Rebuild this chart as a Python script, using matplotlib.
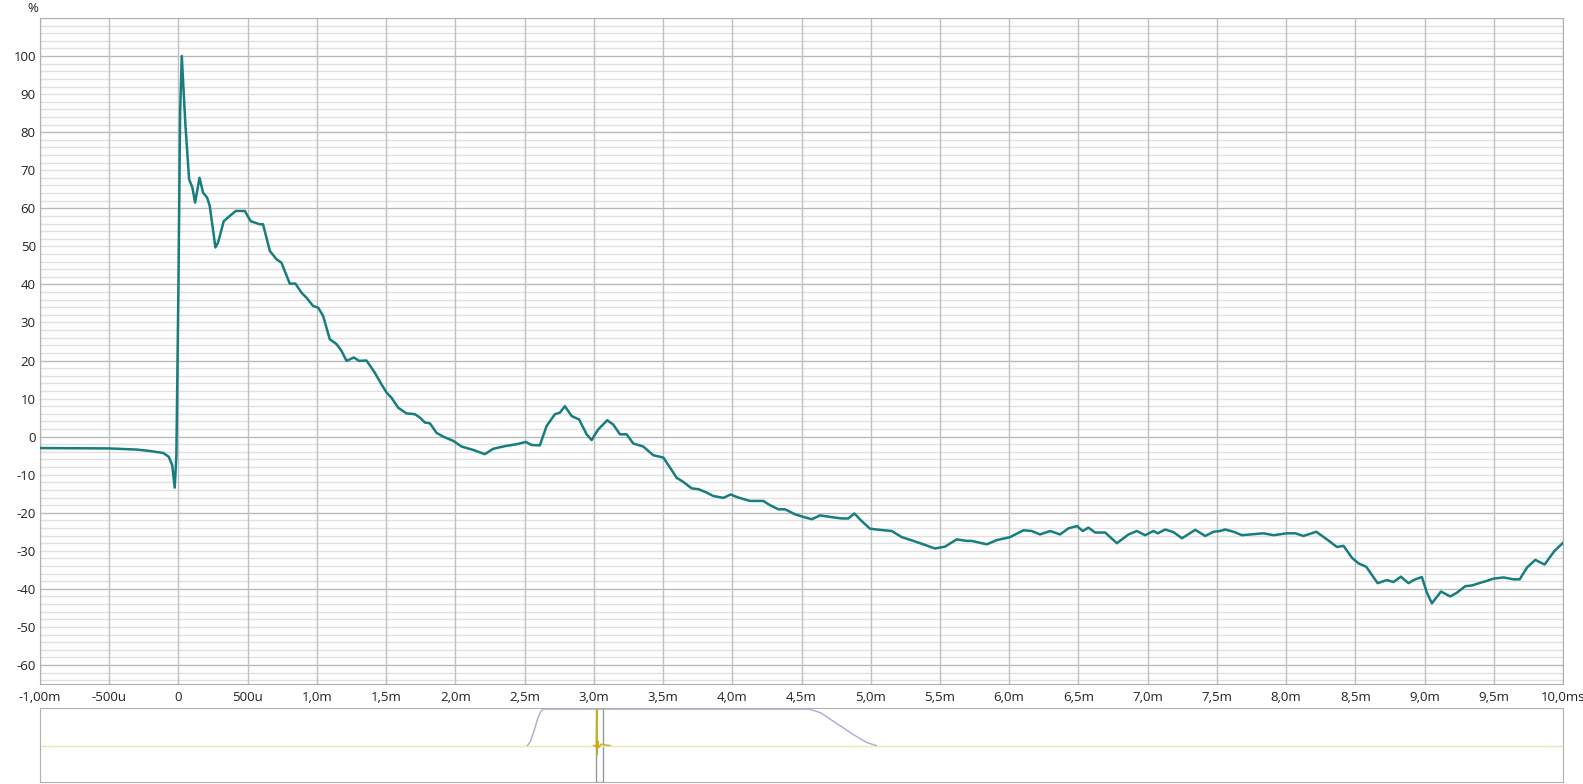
import matplotlib.pyplot as plt
import numpy as np

plt.rcParams['font.family'] = ['Open Sans', 'DejaVu Sans']

# impulse response (time in ms, level in %)
t_ms = [-1.0, -0.5, -0.3, -0.2, -0.11, -0.07, -0.045, -0.027, -0.015, 0.0, 0.012, 0.024,
        0.05, 0.077, 0.101, 0.12, 0.152, 0.178, 0.207, 0.226, 0.267, 0.286, 0.327, 0.371,
        0.414, 0.479, 0.522, 0.587, 0.611, 0.66, 0.708, 0.744, 0.804, 0.845, 0.889, 0.925,
        0.973, 1.009, 1.045, 1.093, 1.142, 1.178, 1.214, 1.267, 1.305, 1.358, 1.418, 1.467,
        1.503, 1.539, 1.587, 1.647, 1.707, 1.744, 1.780, 1.816, 1.864, 1.912, 1.984, 2.045,
        2.129, 2.213, 2.273, 2.358, 2.442, 2.509, 2.55, 2.61, 2.659, 2.719, 2.755, 2.791,
        2.84, 2.894, 2.948, 2.984, 3.032, 3.097, 3.14, 3.189, 3.237, 3.285, 3.357, 3.43,
        3.502, 3.55, 3.598, 3.646, 3.707, 3.755, 3.815, 3.863, 3.935, 3.988, 4.043, 4.128,
        4.224, 4.272, 4.333, 4.381, 4.453, 4.513, 4.574, 4.634, 4.706, 4.79, 4.838, 4.882,
        4.935, 4.995, 5.067, 5.152, 5.224, 5.308, 5.38, 5.465, 5.537, 5.621, 5.693, 5.73,
        5.838, 5.91, 6.007, 6.103, 6.163, 6.223, 6.296, 6.368, 6.428, 6.489, 6.532, 6.572,
        6.621, 6.693, 6.778, 6.862, 6.922, 6.982, 7.042, 7.074, 7.127, 7.187, 7.248, 7.344,
        7.416, 7.476, 7.524, 7.56, 7.621, 7.681, 7.741, 7.837, 7.909, 8.006, 8.066, 8.126,
        8.218, 8.295, 8.367, 8.415, 8.475, 8.523, 8.579, 8.661, 8.728, 8.776, 8.829, 8.884,
        8.933, 8.981, 9.017, 9.053, 9.119, 9.186, 9.234, 9.294, 9.343, 9.403, 9.451, 9.499,
        9.571, 9.643, 9.687, 9.74, 9.80, 9.867, 9.937, 10.0]
level = [-3.0, -3.1, -3.4, -3.8, -4.3, -5.3, -7.5, -13.4, -5.0, 40.0, 85.0, 100.0,
         82.0, 67.6, 65.4, 61.5, 68.0, 64.1, 62.8, 60.6, 49.7, 51.0, 56.6, 58.0,
         59.3, 59.3, 56.6, 55.8, 55.8, 48.8, 46.6, 45.7, 40.2, 40.2, 37.8, 36.5,
         34.3, 33.9, 31.7, 25.6, 24.3, 22.5, 19.9, 20.8, 19.9, 20.0, 16.8, 13.7,
         11.6, 10.2, 7.6, 6.1, 5.9, 5.0, 3.7, 3.5, 1.0, 0.0, -1.1, -2.6,
         -3.5, -4.6, -3.2, -2.5, -2.0, -1.4, -2.2, -2.3, 2.8, 5.9, 6.3, 8.0,
         5.4, 4.5, 0.6, -0.9, 1.9, 4.3, 3.2, 0.6, 0.6, -1.8, -2.6, -4.9,
         -5.5, -8.1, -10.8, -11.9, -13.6, -13.8, -14.7, -15.6, -16.1, -15.2, -16.0, -16.9,
         -16.9, -18.0, -19.1, -19.1, -20.4, -21.1, -21.7, -20.7, -21.1, -21.5, -21.5, -20.2,
         -22.2, -24.2, -24.5, -24.8, -26.4, -27.4, -28.3, -29.4, -28.9, -27.0, -27.4, -27.4,
         -28.3, -27.2, -26.4, -24.6, -24.8, -25.7, -24.8, -25.7, -24.1, -23.5, -24.8, -23.9,
         -25.2, -25.2, -28.0, -25.7, -24.8, -25.9, -24.8, -25.4, -24.4, -25.1, -26.7, -24.5,
         -26.1, -25.0, -24.8, -24.4, -25.0, -25.9, -25.7, -25.4, -25.9, -25.4, -25.4, -26.1,
         -25.0, -27.0, -29.0, -28.7, -31.8, -33.3, -34.2, -38.5, -37.7, -38.2, -36.8, -38.5,
         -37.5, -36.9, -41.0, -43.8, -40.7, -42.0, -41.0, -39.3, -39.1, -38.4, -37.9, -37.3,
         -37.0, -37.5, -37.5, -34.4, -32.4, -33.6, -30.1, -27.9]

x_ticks = [-1.0, -0.5, 0.0, 0.5, 1.0, 1.5, 2.0, 2.5, 3.0, 3.5, 4.0, 4.5, 5.0, 5.5, 6.0,
           6.5, 7.0, 7.5, 8.0, 8.5, 9.0, 9.5, 10.0]
x_labels = ['-1,00m', '-500u', '0', '500u', '1,0m', '1,5m', '2,0m', '2,5m', '3,0m', '3,5m',
            '4,0m', '4,5m', '5,0m', '5,5m', '6,0m', '6,5m', '7,0m', '7,5m', '8,0m', '8,5m',
            '9,0m', '9,5m', '10,0ms']
y_ticks = list(range(-60, 101, 10))

# overview strip: analysis window (ms, gain) and the impulse near t=0
win_t = [-127, -122, -115, -108, -102, -98, 389, 410, 440, 470, 495, 512]
win_g = [0, 0.1, 0.4, 0.75, 0.95, 1.0, 1.0, 0.9, 0.6, 0.3, 0.08, 0]
ir_t = [-6, -2, -1, 0, 1, 2, 4, 8, 14, 24]
ir_v = [0, 0, -0.05, 0.98, -0.25, 0.12, -0.05, 0.04, 0.02, 0]

fig = plt.figure(figsize=(15.83, 7.84), dpi=100)
ax = fig.add_axes([40 / 1583, 100 / 784, 1523 / 1583, 666 / 784])

for v in range(-64, 111, 2):
    major = v % 20 == 0
    ax.axhline(v, color='#bababa' if major else '#e0e0e0', lw=1.0, zorder=0)
for xt in x_ticks:
    ax.axvline(xt, color='#c0c0c0', lw=1.0, zorder=0)

ax.plot(t_ms, level, color='#177d7d', lw=1.8, zorder=3, solid_joinstyle='round')

ax.set_xlim(-1.0, 10.0)
ax.set_ylim(-65, 110)
ax.set_xticks(x_ticks)
ax.set_xticklabels(x_labels)
ax.set_yticks(y_ticks)
ax.set_yticklabels([str(v) for v in y_ticks])
for lab, v in zip(ax.get_yticklabels(), y_ticks):
    lab.set_color('#222222' if v % 20 == 0 else '#8a8a8a')
ax.tick_params(length=0, labelsize=9.5, colors='#222222', pad=5)
ax.tick_params(axis='y', pad=3)
for sp in ax.spines.values():
    sp.set_color('#b0b0b0')
ax.annotate('%', xy=(0, 1), xycoords='axes fraction', xytext=(-5.5, 7),
            textcoords='offset points', ha='center', va='center',
            fontsize=9.5, color='#222222')

ov = fig.add_axes([40 / 1583, 2 / 784, 1523 / 1583, 74 / 784])
ov.axhline(0, color='#ebe7b8', lw=1.0)
ov.plot(win_t, win_g, color='#a9a9d6', lw=1.0)
ov.plot(ir_t, ir_v, color='#c9ac1c', lw=1.0)
ov.axvspan(-1.0 - 1.0, 10.0 + 1.0, ymin=0, ymax=1, facecolor='none',
           edgecolor='#999999', lw=1.0)
ov.set_xlim(-1020, 1770)
ov.set_ylim(-1.0, 1.03)
ov.set_xticks([])
ov.set_yticks([])
for sp in ov.spines.values():
    sp.set_color('#b0b0b0')

fig.savefig('out.png', dpi=100)
